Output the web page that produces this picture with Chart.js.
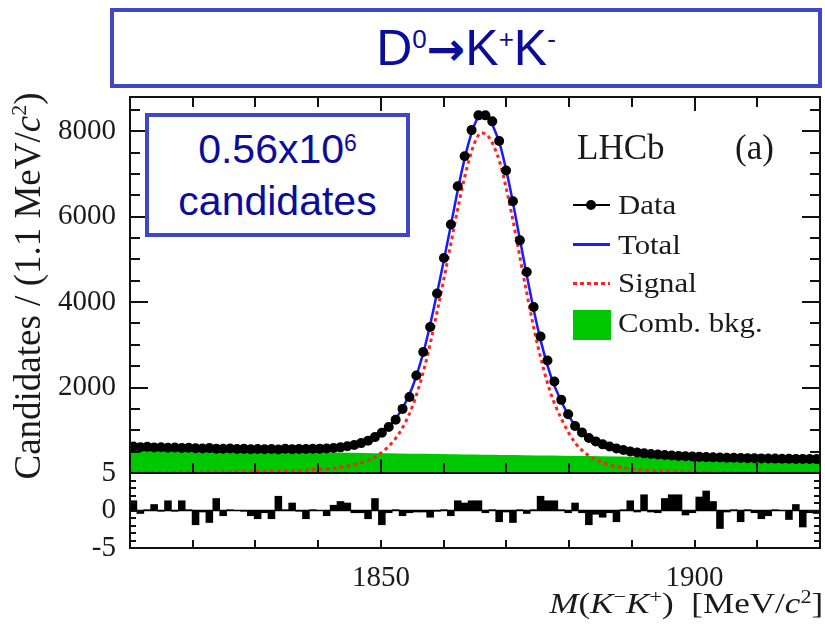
<!DOCTYPE html>
<html>
<head>
<meta charset="utf-8">
<script src="https://cdn.jsdelivr.net/npm/chart.js@4.4.1/dist/chart.umd.min.js"></script>
<style>
  html, body { margin: 0; padding: 0; background: #fff; }
  #wrap { position: relative; width: 825px; height: 624px; overflow: hidden; }
  #plot { position: absolute; left: 0; top: 0; }
  .box { position: absolute; box-sizing: border-box; border: 4px solid #3f47c6; background: #fff;
         color: #0b0b9c; font-family: "Liberation Sans", Arial, sans-serif; text-align: center; }
  #titleBox { left: 110px; top: 8px; width: 712px; height: 80px; font-size: 50px; line-height: 72px; }
  #titleBox sup { font-size: 26px; vertical-align: 17px; line-height: 0; }
  #titleBox .arr { font-family: "DejaVu Sans", sans-serif; font-weight: bold; font-size: 46px; }
  #candBox { left: 145px; top: 113px; width: 265px; height: 124px; font-size: 41px; line-height: 52px; padding-top: 6px; }
  #candBox sup { font-size: 23px; vertical-align: 12px; line-height: 0; }
  .serif { position: absolute; font-family: "Liberation Serif", "Times New Roman", serif; color: #1a1a1a; white-space: nowrap; }
  #yTitle { left: -172px; top: 264px; width: 400px; height: 44px; line-height: 44px; font-size: 37px;
            text-align: center; transform: rotate(-90deg); }
  #xTitle { right: 2px; top: 585px; font-size: 30px; line-height: 36px; transform-origin: right center; transform: scaleX(1.17); }
  #xTitle i { font-style: italic; }
  #xTitle sup { font-size: 19px; vertical-align: 10px; line-height: 0; }
  .lab { font-size: 28px; line-height: 32px; transform-origin: left center; transform: scaleX(1.1); }
  .sym { position: absolute; }
</style>
</head>
<body>
<div id="wrap">
  <canvas id="plot" width="825" height="624"></canvas>

  <div class="box" id="titleBox">D<sup>0</sup><span class="arr">→</span>K<sup>+</sup>K<sup>-</sup></div>
  <div class="box" id="candBox">0.56x10<sup>6</sup><br>candidates</div>

  <div class="serif" id="yTitle">Candidates / (1.1 MeV/<i>c</i><sup style="font-size:22px;vertical-align:14px;line-height:0">2</sup>)</div>
  <div class="serif" id="xTitle"><i>M</i>(<i>K</i><sup>−</sup><i>K</i><sup>+</sup>) &nbsp;[MeV/<i>c</i><sup>2</sup>]</div>

  <div class="serif" style="left:577px; top:128px; font-size:35px; line-height:40px;">LHCb</div>
  <div class="serif" style="left:735px; top:128px; font-size:35px; line-height:40px;">(a)</div>

  <div class="sym" style="left:573px; top:204px; width:37px; height:2px; background:#000;"></div>
  <div class="sym" style="left:586px; top:200px; width:10px; height:10px; border-radius:50%; background:#000;"></div>
  <div class="serif lab" style="left:618px; top:189px;">Data</div>

  <div class="sym" style="left:573px; top:243px; width:37px; height:3px; background:#1a1aff;"></div>
  <div class="serif lab" style="left:618px; top:229px;">Total</div>

  <div class="sym" style="left:573px; top:282px; width:37px; height:3px;
       background:repeating-linear-gradient(90deg,#f22 0 4px,transparent 4px 7px);"></div>
  <div class="serif lab" style="left:618px; top:267px;">Signal</div>

  <div class="sym" style="left:573px; top:310px; width:38px; height:30px; background:#00c800;"></div>
  <div class="serif lab" style="left:618px; top:307px;">Comb. bkg.</div>
</div>

<script>
// axis ranges and binning (1.1 MeV bins)
const MASS_MIN = 1810;
const MASS_MAX = 1920;
const BIN_WIDTH = 1.1;
const COUNT_MIN = 0;
const COUNT_MAX = 8800;
const PULL_MIN = -5;
const PULL_MAX = 5;

// tick positions (labelled ones get a long tick)
const massTicks = [1820, 1830, 1840, 1850, 1860, 1870, 1880, 1890, 1900, 1910];
const massLabels = [1850, 1900];
const countTicks = [500, 1000, 1500, 2000, 2500, 3000, 3500, 4000, 4500, 5000, 5500, 6000, 6500, 7000, 7500, 8000, 8500];
const countLabels = [2000, 4000, 6000, 8000];
const pullTicks = [-4, -3, -2, -1, 0, 1, 2, 3, 4];
const pullLabels = [-5, 0, 5];

// candidates per bin
const counts = [
  620, 605, 612, 598, 603, 590, 596, 585, 592, 580,
  575, 583, 570, 566, 574, 560, 565, 556, 562, 555,
  560, 552, 566, 558, 562, 560, 566, 570, 575, 585,
  600, 625, 655, 700, 755, 840, 940, 1075, 1245, 1500,
  1780, 2280, 2830, 3415, 4200, 5030, 5815, 6710, 7415, 8025,
  8370, 8370, 8230, 7770, 7080, 6360, 5445, 4705, 3885, 3195,
  2634, 2140, 1712, 1376, 1102, 950, 820, 740, 670, 620,
  575, 540, 505, 480, 460, 445, 432, 420, 410, 400,
  392, 385, 378, 372, 366, 362, 358, 355, 352, 348,
  345, 342, 340, 337, 335, 333, 330, 330, 327, 325
];

// fit pulls per bin
const pulls = [
  1.3, -0.4, 0.1, 0.8, -0.1, 1.3, -0.1, 1.3, 0.1, -1.9,
  -0.2, -1.6, 1.6, -0.7, 0.1, 0.0, -0.1, -0.7, -1.1, -0.3,
  -1.1, 1.9, 0.1, 1.0, -0.1, -1.1, 0.1, 0.0, -0.7, 0.7,
  1.2, 1.0, -0.3, -0.3, -1.1, 1.6, -1.9, -0.3, 0.1, -0.7,
  -0.3, -0.2, -0.2, -0.9, -0.1, 0.1, -0.7, 1.3, 1.0, 1.3,
  1.3, -0.3, 0.1, -1.5, -0.2, -1.6, 0.1, -0.4, 0.1, 1.9,
  1.3, 1.3, 0.1, -0.3, 1.0, -0.3, -1.9, -0.5, -0.9, -0.3,
  -1.5, 0.1, 1.3, -0.2, 2.1, -0.2, -0.3, 1.6, 2.1, 2.1,
  -0.6, -0.3, 1.8, 2.6, 1.2, -2.4, -0.2, 0.1, -1.5, 0.1,
  -0.3, -1.1, -0.7, 0.1, 0.0, -1.2, 0.8, -2.2, -0.3, -0.4
];

// fit curves, sampled where read
const fitMass = [
  1810, 1815, 1820, 1825, 1830, 1835, 1838, 1841, 1843, 1845, 1847, 1849, 1851, 1853, 1855,
  1857, 1859, 1861, 1862, 1863, 1864, 1865, 1866, 1867, 1868, 1869, 1870, 1871, 1873, 1875,
  1877, 1879, 1881, 1883, 1885, 1888, 1891, 1895, 1900, 1905, 1910, 1915, 1920
];
const fitTotal = [
  568, 559, 551, 546, 542, 545, 555, 578, 603, 644, 714, 840, 1050, 1406, 2002,
  2948, 4243, 5689, 6437, 7135, 7733, 8181, 8389, 8327, 8075, 7673, 7071, 6369, 4815, 3391,
  2307, 1603, 1100, 816, 652, 527, 461, 414, 385, 369, 356, 345, 335
];
const fitSignal = [
  8, 12, 17, 24, 33, 48, 65, 95, 125, 170, 245, 375, 590, 950, 1550,
  2500, 3800, 5250, 6000, 6700, 7300, 7750, 7960, 7900, 7650, 7250, 6650, 5950, 4400, 2980,
  1900, 1200, 700, 420, 260, 140, 80, 40, 20, 12, 8, 5, 3
];
const fitBkg = [
  560, 547, 534, 522, 509, 497, 490, 483, 478, 474, 469, 465, 460, 456, 452,
  448, 443, 439, 437, 435, 433, 431, 429, 427, 425, 423, 421, 419, 415, 411,
  407, 403, 400, 396, 392, 387, 381, 374, 365, 357, 348, 340, 332
];

const binCenters = counts.map((_, i) => +(MASS_MIN + BIN_WIDTH * (i + 0.5)).toFixed(2));
const pts = (xs, ys) => xs.map((x, i) => ({ x, y: ys[i] }));

const TICK_FONT = { family: "'Liberation Serif', 'Times New Roman', serif", size: 29 };
const setTicks = values => scale => { scale.ticks = values.map(v => ({ value: v })); };
const labelIf = labels => v => (labels.includes(v) ? String(v) : "");

// pixel for a value on a scale; falls back on the scale's own box and range
function pixelOf(scale, v, lo, hi) {
  const p = scale.getPixelForValue(v);
  const horiz = scale.isHorizontal();
  const a = horiz ? scale.left : scale.top;
  const b = horiz ? scale.right : scale.bottom;
  if (Number.isFinite(p) && p >= a - 1 && p <= b + 1) return p;
  const f = (v - lo) / (hi - lo);
  return horiz ? a + f * (b - a) : b - f * (b - a);
}

// ROOT-style frame with inward ticks
function drawFrame(chart) {
  const ctx = chart.ctx;
  const x = chart.scales.x, y = chart.scales.y, yr = chart.scales.yRes;
  const L = Math.round(x.left), R = Math.round(x.right);
  const T = Math.round(y.top), M = Math.round(y.bottom), B = Math.round(yr.bottom);
  const w = 2;
  ctx.save();
  ctx.setTransform(1, 0, 0, 1, 0, 0);
  ctx.globalAlpha = 1;
  ctx.globalCompositeOperation = "source-over";
  ctx.fillStyle = "#111";
  massTicks.forEach(v => {
    const px = Math.round(pixelOf(x, v, MASS_MIN, MASS_MAX)) - 1;
    const len = massLabels.includes(v) ? 14 : 10;
    ctx.fillRect(px, T, w, len);
    ctx.fillRect(px, M - len, w, len);
    ctx.fillRect(px, B - 8, w, 8);
  });
  countTicks.forEach(v => {
    const py = Math.round(pixelOf(y, v, COUNT_MIN, COUNT_MAX)) - 1;
    const len = countLabels.includes(v) ? 18 : 10;
    ctx.fillRect(L, py, len, w);
    ctx.fillRect(R - len, py, len, w);
  });
  pullTicks.forEach(v => {
    const py = Math.round(pixelOf(yr, v, PULL_MIN, PULL_MAX)) - 1;
    const len = pullLabels.includes(v) ? 12 : 6;
    ctx.fillRect(L, py, len, w);
    ctx.fillRect(R - len, py, len, w);
  });
  // frame and panel divider
  ctx.fillRect(L - 1, T - 1, R - L + 2, w);
  ctx.fillRect(L - 1, B - 1, R - L + 2, w);
  ctx.fillRect(L - 1, M - 1, R - L + 2, w);
  ctx.fillRect(L - 1, T - 1, w, B - T + 2);
  ctx.fillRect(R - 1, T - 1, w, B - T + 2);
  ctx.restore();
}

const frameTicks = {
  id: "frameTicks",
  afterDraw(chart) { drawFrame(chart); }
};

const chart = new Chart(document.getElementById("plot"), {
  type: "scatter",
  data: {
    datasets: [
      {
        type: "scatter",
        label: "Data",
        data: pts(binCenters, counts),
        yAxisID: "y",
        pointRadius: 5,
        pointBackgroundColor: "#000",
        pointBorderWidth: 0,
        order: 1
      },
      {
        type: "line",
        label: "Total",
        data: pts(fitMass, fitTotal),
        yAxisID: "y",
        borderColor: "#1a1aff",
        borderWidth: 2.5,
        pointRadius: 0,
        cubicInterpolationMode: "monotone",
        fill: false,
        order: 2
      },
      {
        type: "line",
        label: "Signal",
        data: pts(fitMass, fitSignal),
        yAxisID: "y",
        borderColor: "#f22",
        borderWidth: 3,
        borderDash: [3.5, 3.5],
        pointRadius: 0,
        cubicInterpolationMode: "monotone",
        fill: false,
        order: 3
      },
      {
        type: "line",
        label: "Comb. bkg.",
        data: pts(fitMass, fitBkg),
        yAxisID: "y",
        borderWidth: 0,
        backgroundColor: "#00c800",
        pointRadius: 0,
        fill: "origin",
        order: 4
      },
      {
        type: "bar",
        label: "Pull",
        data: pts(binCenters, pulls),
        yAxisID: "yRes",
        backgroundColor: "#000",
        borderWidth: 0,
        barPercentage: 1,
        categoryPercentage: 1,
        order: 5
      },
      {
        type: "line",
        label: "zero",
        data: pts([MASS_MIN, MASS_MAX], [0, 0]),
        yAxisID: "yRes",
        borderColor: "#000",
        borderWidth: 1.5,
        pointRadius: 0,
        order: 6
      }
    ]
  },
  options: {
    responsive: false,
    animation: false,
    layout: { padding: { top: 97, right: 2, left: 0, bottom: 0 } },
    plugins: { legend: { display: false }, tooltip: { enabled: false } },
    scales: {
      x: {
        type: "linear",
        min: MASS_MIN,
        max: MASS_MAX,
        offset: false,
        grid: { display: false },
        border: { display: false },
        afterBuildTicks: setTicks(massLabels),
        ticks: {
          autoSkip: false,
          maxRotation: 0,
          padding: 5,
          color: "#1a1a1a",
          font: TICK_FONT,
          callback: labelIf(massLabels)
        },
        afterFit: s => { s.height = 76; }
      },
      yRes: {
        type: "linear",
        position: "left",
        stack: "panels",
        stackWeight: 75,
        min: PULL_MIN,
        max: PULL_MAX,
        grid: { display: false },
        border: { display: false },
        afterBuildTicks: setTicks(pullLabels),
        ticks: {
          autoSkip: false,
          padding: 6,
          color: "#1a1a1a",
          font: TICK_FONT,
          callback: labelIf(pullLabels)
        },
        afterFit: s => { s.width = 130; }
      },
      y: {
        type: "linear",
        position: "left",
        stack: "panels",
        stackWeight: 376,
        min: COUNT_MIN,
        max: COUNT_MAX,
        grid: { display: false },
        border: { display: false },
        afterBuildTicks: setTicks(countLabels),
        ticks: {
          autoSkip: false,
          padding: 6,
          color: "#1a1a1a",
          font: TICK_FONT,
          callback: labelIf(countLabels)
        },
        afterFit: s => { s.width = 130; }
      }
    }
  },
  plugins: [frameTicks]
});
</script>
</body>
</html>
